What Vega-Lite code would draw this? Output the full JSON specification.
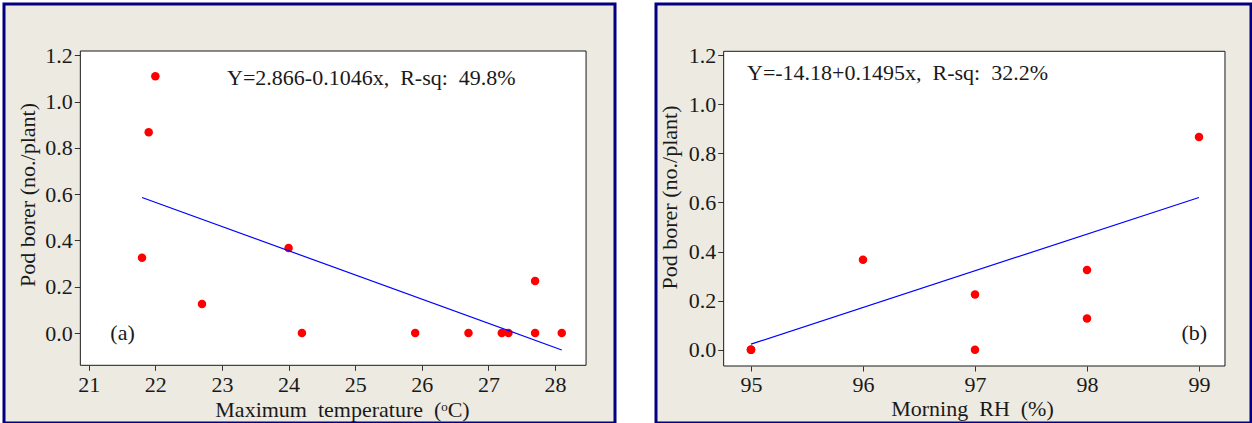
{
  "$schema": "https://vega.github.io/schema/vega-lite/v6.json",
  "background": "#FFFFFF",
  "padding": {"left": 2, "top": 2, "right": 0, "bottom": 0},
  "spacing": 37,
  "config": {
    "font": "Liberation Serif",
    "axis": {
      "labelFont": "Liberation Serif",
      "labelFontSize": 22,
      "labelColor": "#1a1a1a",
      "titleFont": "Liberation Serif",
      "titleFontSize": 22,
      "titleFontWeight": "normal",
      "titleColor": "#1a1a1a",
      "tickColor": "#333333",
      "domain": false,
      "grid": false
    }
  },
  "hconcat": [
    {
      "width": 611,
      "height": 419,
      "view": {"fill": "#EDEAE1", "stroke": "#000080", "strokeWidth": 3},
      "layer": [
        {
          "data": {"values": [{"region": "plot"}]},
          "mark": {"type": "rect", "fill": "#FFFFFF", "stroke": "#1a1a1a", "strokeWidth": 1},
          "encoding": {
            "x": {"datum": 20.874, "type": "quantitative", "scale": {"domain": [19.7282, 28.8994], "nice": false, "zero": false}},
            "x2": {"datum": 28.465},
            "y": {"datum": -0.1396, "type": "quantitative", "scale": {"domain": [-0.3889, 1.4217], "nice": false, "zero": false}},
            "y2": {"datum": 1.2186}
          }
        },
        {
          "data": {"values": [
            {"temp": 21.8, "borer": 0.325},
            {"temp": 21.9, "borer": 0.867},
            {"temp": 22.0, "borer": 1.11},
            {"temp": 22.7, "borer": 0.125},
            {"temp": 24.0, "borer": 0.367},
            {"temp": 24.2, "borer": 0},
            {"temp": 25.9, "borer": 0},
            {"temp": 26.7, "borer": 0},
            {"temp": 27.2, "borer": 0},
            {"temp": 27.3, "borer": 0},
            {"temp": 27.7, "borer": 0},
            {"temp": 27.7, "borer": 0.225},
            {"temp": 28.1, "borer": 0}
          ]},
          "mark": {"type": "circle", "color": "#FF0000", "size": 72, "opacity": 1},
          "encoding": {
            "x": {
              "field": "temp", "type": "quantitative",
              "scale": {"domain": [19.7282, 28.8994], "nice": false, "zero": false},
              "axis": {
                "title": "Maximum\u2002temperature\u2002(\u1d52C)",
                "values": [21, 22, 23, 24, 25, 26, 27, 28],
                "format": "d",
                "offset": -57.7,
                "tickSize": 5,
                "labelPadding": 20.7,
                "labelBaseline": "alphabetic",
                "titleX": 338,
                "titleY": 50.7,
                "titleBaseline": "alphabetic",
                "titleAlign": "center"
              }
            },
            "y": {
              "field": "borer", "type": "quantitative",
              "scale": {"domain": [-0.3889, 1.4217], "nice": false, "zero": false},
              "axis": {
                "title": "Pod borer (no./plant)",
                "values": [0, 0.2, 0.4, 0.6, 0.8, 1.0, 1.2],
                "format": ".1f",
                "offset": -76.3,
                "tickSize": 6,
                "labelPadding": 2,
                "titleX": -46,
                "titleY": 190.5,
                "titleAngle": 270,
                "titleBaseline": "alphabetic",
                "titleAlign": "center"
              }
            }
          }
        },
        {
          "data": {"values": [
            {"temp": 21.8, "borer": 0.5857},
            {"temp": 28.1, "borer": -0.0733}
          ]},
          "mark": {"type": "line", "color": "#0000FF", "strokeWidth": 1.2},
          "encoding": {
            "x": {"field": "temp", "type": "quantitative", "scale": {"domain": [19.7282, 28.8994], "nice": false, "zero": false}},
            "y": {"field": "borer", "type": "quantitative", "scale": {"domain": [-0.3889, 1.4217], "nice": false, "zero": false}}
          }
        },
        {
          "data": {"values": [{"label": "Y=2.866-0.1046x,\u2002R-sq:\u200249.8%"}]},
          "mark": {"type": "text", "align": "left", "baseline": "alphabetic", "font": "Liberation Serif", "fontSize": 22, "color": "#1a1a1a"},
          "encoding": {
            "x": {"datum": 23.0766, "type": "quantitative"},
            "y": {"datum": 1.0704, "type": "quantitative"},
            "text": {"field": "label"}
          }
        },
        {
          "data": {"values": [{"label": "(a)"}]},
          "mark": {"type": "text", "align": "left", "baseline": "alphabetic", "font": "Liberation Serif", "fontSize": 22, "color": "#1a1a1a"},
          "encoding": {
            "x": {"datum": 21.3243, "type": "quantitative"},
            "y": {"datum": -0.0303, "type": "quantitative"},
            "text": {"field": "label"}
          }
        }
      ]
    },
    {
      "width": 595,
      "height": 419,
      "view": {"fill": "#EDEAE1", "stroke": "#000080", "strokeWidth": 3},
      "layer": [
        {
          "data": {"values": [{"region": "plot"}]},
          "mark": {"type": "rect", "fill": "#FFFFFF", "stroke": "#1a1a1a", "strokeWidth": 1},
          "encoding": {
            "x": {"datum": 94.756, "type": "quantitative", "scale": {"domain": [94.1518, 99.4643], "nice": false, "zero": false}},
            "x2": {"datum": 99.232},
            "y": {"datum": -0.0665, "type": "quantitative", "scale": {"domain": [-0.2988, 1.4091], "nice": false, "zero": false}},
            "y2": {"datum": 1.2163}
          }
        },
        {
          "data": {"values": [
            {"rh": 95, "borer": 0},
            {"rh": 95, "borer": 0},
            {"rh": 95, "borer": 0},
            {"rh": 96, "borer": 0.367},
            {"rh": 97, "borer": 0.225},
            {"rh": 97, "borer": 0},
            {"rh": 98, "borer": 0.325},
            {"rh": 98, "borer": 0.127},
            {"rh": 99, "borer": 0.867}
          ]},
          "mark": {"type": "circle", "color": "#FF0000", "size": 72, "opacity": 1},
          "encoding": {
            "x": {
              "field": "rh", "type": "quantitative",
              "scale": {"domain": [94.1518, 99.4643], "nice": false, "zero": false},
              "axis": {
                "title": "Morning\u2002RH\u2002(%)",
                "values": [95, 96, 97, 98, 99],
                "format": "d",
                "offset": -57,
                "tickSize": 5,
                "labelPadding": 20,
                "labelBaseline": "alphabetic",
                "titleX": 316,
                "titleY": 49.3,
                "titleBaseline": "alphabetic",
                "titleAlign": "center"
              }
            },
            "y": {
              "field": "borer", "type": "quantitative",
              "scale": {"domain": [-0.2988, 1.4091], "nice": false, "zero": false},
              "axis": {
                "title": "Pod borer (no./plant)",
                "values": [0, 0.2, 0.4, 0.6, 0.8, 1.0, 1.2],
                "format": ".1f",
                "offset": -67.7,
                "tickSize": 6,
                "labelPadding": 2,
                "titleX": -47.7,
                "titleY": 193,
                "titleAngle": 270,
                "titleBaseline": "alphabetic",
                "titleAlign": "center"
              }
            }
          }
        },
        {
          "data": {"values": [
            {"rh": 95, "borer": 0.0225},
            {"rh": 99, "borer": 0.6205}
          ]},
          "mark": {"type": "line", "color": "#0000FF", "strokeWidth": 1.2},
          "encoding": {
            "x": {"field": "rh", "type": "quantitative", "scale": {"domain": [94.1518, 99.4643], "nice": false, "zero": false}},
            "y": {"field": "borer", "type": "quantitative", "scale": {"domain": [-0.2988, 1.4091], "nice": false, "zero": false}}
          }
        },
        {
          "data": {"values": [{"label": "Y=-14.18+0.1495x,\u2002R-sq:\u200232.2%"}]},
          "mark": {"type": "text", "align": "left", "baseline": "alphabetic", "font": "Liberation Serif", "fontSize": 22, "color": "#1a1a1a"},
          "encoding": {
            "x": {"datum": 94.9643, "type": "quantitative"},
            "y": {"datum": 1.0993, "type": "quantitative"},
            "text": {"field": "label"}
          }
        },
        {
          "data": {"values": [{"label": "(b)"}]},
          "mark": {"type": "text", "align": "left", "baseline": "alphabetic", "font": "Liberation Serif", "fontSize": 22, "color": "#1a1a1a"},
          "encoding": {
            "x": {"datum": 98.843, "type": "quantitative"},
            "y": {"datum": 0.0395, "type": "quantitative"},
            "text": {"field": "label"}
          }
        }
      ]
    }
  ]
}
